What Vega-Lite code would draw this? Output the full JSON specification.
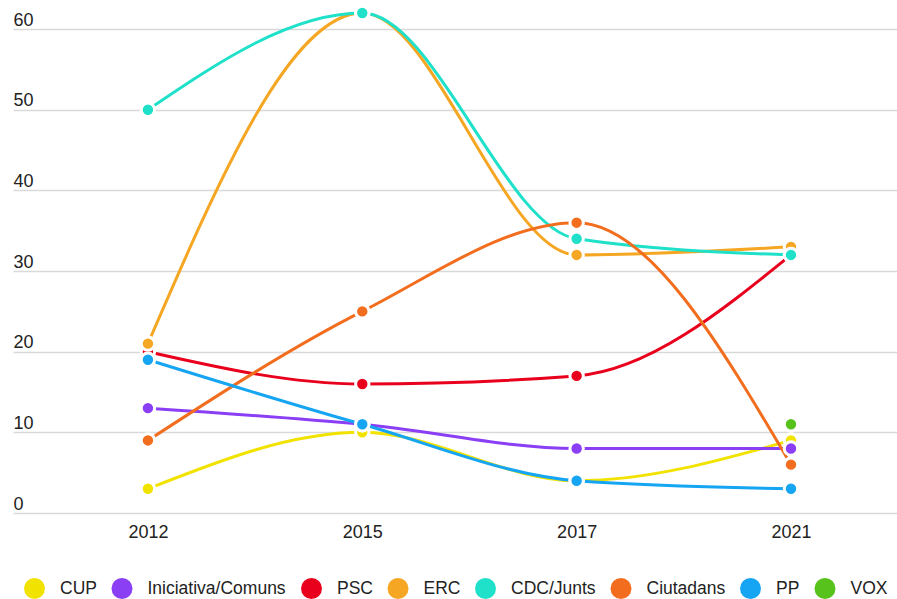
{
  "$schema": "https://vega.github.io/schema/vega-lite/v6.json",
  "width": 884,
  "height": 500,
  "autosize": {"type": "none"},
  "padding": {"left": 13, "top": 13, "right": 0, "bottom": 86},
  "background": "white",
  "config": {
    "view": {"stroke": null},
    "font": "Liberation Sans"
  },
  "data": {
    "values": [
      {"party": "CUP", "year": "2012", "seats": 3},
      {"party": "CUP", "year": "2015", "seats": 10},
      {"party": "CUP", "year": "2017", "seats": 4},
      {"party": "CUP", "year": "2021", "seats": 9},
      {"party": "Iniciativa/Comuns", "year": "2012", "seats": 13},
      {"party": "Iniciativa/Comuns", "year": "2015", "seats": 11},
      {"party": "Iniciativa/Comuns", "year": "2017", "seats": 8},
      {"party": "Iniciativa/Comuns", "year": "2021", "seats": 8},
      {"party": "PSC", "year": "2012", "seats": 20},
      {"party": "PSC", "year": "2015", "seats": 16},
      {"party": "PSC", "year": "2017", "seats": 17},
      {"party": "PSC", "year": "2021", "seats": 32},
      {"party": "ERC", "year": "2012", "seats": 21},
      {"party": "ERC", "year": "2015", "seats": 62},
      {"party": "ERC", "year": "2017", "seats": 32},
      {"party": "ERC", "year": "2021", "seats": 33},
      {"party": "CDC/Junts", "year": "2012", "seats": 50},
      {"party": "CDC/Junts", "year": "2015", "seats": 62},
      {"party": "CDC/Junts", "year": "2017", "seats": 34},
      {"party": "CDC/Junts", "year": "2021", "seats": 32},
      {"party": "Ciutadans", "year": "2012", "seats": 9},
      {"party": "Ciutadans", "year": "2015", "seats": 25},
      {"party": "Ciutadans", "year": "2017", "seats": 36},
      {"party": "Ciutadans", "year": "2021", "seats": 6},
      {"party": "PP", "year": "2012", "seats": 19},
      {"party": "PP", "year": "2015", "seats": 11},
      {"party": "PP", "year": "2017", "seats": 4},
      {"party": "PP", "year": "2021", "seats": 3},
      {"party": "VOX", "year": "2021", "seats": 11}
    ]
  },
  "encoding": {
    "x": {
      "field": "year",
      "type": "ordinal",
      "sort": ["2012", "2015", "2017", "2021"],
      "scale": {"type": "point", "padding": 0.562, "align": 0.56},
      "axis": {
        "title": null,
        "domain": false,
        "ticks": false,
        "labelAngle": 0,
        "labelFontSize": 18,
        "labelColor": "#222222",
        "labelBaseline": "alphabetic",
        "labelPadding": 24,
        "grid": false
      }
    },
    "y": {
      "field": "seats",
      "type": "quantitative",
      "scale": {"domain": [0, 62], "nice": false, "zero": true},
      "axis": {
        "title": null,
        "values": [0, 10, 20, 30, 40, 50, 60],
        "domain": false,
        "ticks": false,
        "tickSize": 0,
        "labelAlign": "left",
        "labelBaseline": "alphabetic",
        "labelPadding": 0,
        "labelOffset": -4,
        "labelFontSize": 18,
        "labelColor": "#222222",
        "grid": true,
        "gridColor": "#d9d9d9",
        "gridWidth": 1.5
      }
    },
    "color": {
      "field": "party",
      "type": "nominal",
      "scale": {
        "domain": ["CUP", "Iniciativa/Comuns", "PSC", "ERC", "CDC/Junts", "Ciutadans", "PP", "VOX"],
        "range": ["#f2e200", "#8b3ff5", "#e8001c", "#f5a623", "#1fe0c9", "#f26e1e", "#16a5f2", "#57c21c"]
      },
      "legend": {
        "title": null,
        "orient": "none",
        "direction": "horizontal",
        "legendX": 11,
        "legendY": 565,
        "symbolType": "circle",
        "symbolSize": 440,
        "symbolStrokeWidth": 0,
        "symbolOpacity": 1,
        "labelFontSize": 17.5,
        "labelColor": "#222222",
        "labelOffset": 15,
        "columnPadding": 14.5,
        "labelLimit": 300
      }
    }
  },
  "layer": [
    {
      "mark": {"type": "line", "interpolate": "monotone", "strokeWidth": 3}
    },
    {
      "mark": {"type": "point", "filled": true, "shape": "circle", "size": 180, "opacity": 1, "stroke": "white", "strokeWidth": 3}
    }
  ]
}
